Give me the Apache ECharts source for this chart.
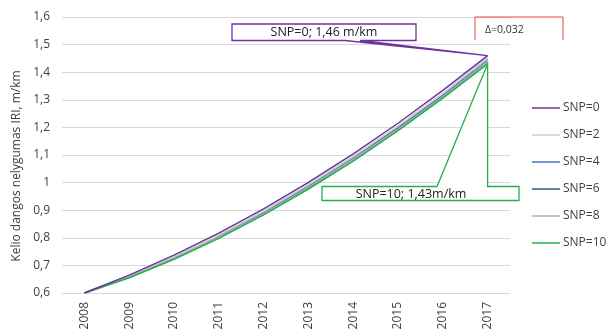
<!DOCTYPE html>
<html>
<head>
<meta charset="utf-8">
<script src="https://cdn.jsdelivr.net/npm/echarts@6/dist/echarts.min.js"></script>
<style>
  html, body { margin: 0; padding: 0; background: #fff; }
  #chart { width: 613px; height: 335px; }
</style>
</head>
<body>
<div id="chart"></div>
<script>
// Years on the horizontal axis
const years = ['2008', '2009', '2010', '2011', '2012', '2013', '2014', '2015', '2016', '2017'];

// Road roughness IRI (m/km) per scenario
const snp0  = [0.600, 0.665, 0.737, 0.817, 0.905, 1.001, 1.104, 1.215, 1.334, 1.460];
const snp2  = [0.600, 0.661, 0.731, 0.810, 0.897, 0.993, 1.095, 1.205, 1.323, 1.452];
const snp4  = [0.600, 0.660, 0.729, 0.807, 0.894, 0.989, 1.091, 1.201, 1.318, 1.448];
const snp6  = [0.600, 0.658, 0.727, 0.804, 0.890, 0.985, 1.087, 1.197, 1.314, 1.441];
const snp8  = [0.600, 0.657, 0.725, 0.801, 0.886, 0.981, 1.083, 1.192, 1.310, 1.436];
const snp10 = [0.600, 0.655, 0.722, 0.798, 0.883, 0.977, 1.078, 1.188, 1.306, 1.430];

const yTicks = { min: 0.6, max: 1.6, interval: 0.1 };
const yAxisTitle = 'Kelio dangos nelygumas IRI, m/km';
const calloutTop = 'SNP=0; 1,46 m/km';
const calloutBottom = 'SNP=10; 1,43m/km';
const deltaText = 'Δ=0,032';

const FONT = 'Open Sans';
const chart = echarts.init(document.getElementById('chart'), null, { renderer: 'canvas' });

function line(name, data, color, width, z) {
  return {
    name, type: 'line', data, symbol: 'none', smooth: false, z,
    lineStyle: { color, width },
    itemStyle: { color },
    emphasis: { disabled: true }
  };
}

const option = {
  animation: false,
  backgroundColor: '#ffffff',
  textStyle: { fontFamily: FONT },
  grid: { left: 62, right: 103, top: 17, bottom: 42 },
  legend: {
    orient: 'vertical',
    left: 527, top: 97,
    icon: 'rect',
    itemWidth: 28, itemHeight: 1.5, itemGap: 15,
    data: ['SNP=0', 'SNP=2', 'SNP=4', 'SNP=6', 'SNP=8', 'SNP=10'],
    textStyle: { fontFamily: FONT, fontSize: 12, color: '#404040', padding: [0, 0, 0, -2] }
  },
  xAxis: {
    type: 'category',
    data: years,
    boundaryGap: true,
    axisLine: { show: true, lineStyle: { color: '#d9d9d9' } },
    axisTick: { show: false },
    axisLabel: { rotate: 90, margin: 9, fontFamily: FONT, fontSize: 12, color: '#404040' }
  },
  yAxis: {
    type: 'value',
    min: yTicks.min, max: yTicks.max, interval: yTicks.interval,
    axisLine: { show: false },
    axisTick: { show: false },
    splitLine: { lineStyle: { color: '#d9d9d9' } },
    axisLabel: {
      margin: 12, fontFamily: FONT, fontSize: 12, color: '#404040',
      formatter: v => (Math.round(v * 10) / 10).toString().replace('.', ',')
    }
  },
  series: [
    line('SNP=4', snp4, '#4472C4', 1.5, 2),
    line('SNP=6', snp6, '#255E91', 1, 2),
    line('SNP=2', snp2, '#cfcfcf', 2, 3),
    line('SNP=8', snp8, '#b0b0b0', 2, 3),
    line('SNP=10', snp10, '#22B14C', 1.6, 4),
    line('SNP=0', snp0, '#7030A0', 1.4, 5)
  ]
};
chart.setOption(option);

// Callout boxes pointing at the 2017 end values
function drawCallouts() {
  const pTop = chart.convertToPixel({ xAxisIndex: 0, yAxisIndex: 0 }, ['2017', snp0[9]]);
  const pBot = chart.convertToPixel({ xAxisIndex: 0, yAxisIndex: 0 }, ['2017', snp10[9]]);
  const gTop = chart.convertToPixel({ yAxisIndex: 0 }, 1.6);

  chart.setOption({
    graphic: [
      {
        type: 'text', x: 17, y: 166, rotation: Math.PI / 2,
        style: {
          text: yAxisTitle, fontFamily: FONT, fontSize: 12, fill: '#404040',
          align: 'center', verticalAlign: 'middle'
        },
        z: 10
      },
      {
        type: 'polygon', z: 20,
        shape: { points: [[232, 24], [416, 24], [416, 40.5], [360, 40.5], [pTop[0], pTop[1]], [345, 40.5], [232, 40.5]] },
        style: { fill: '#ffffff', stroke: '#7030A0', lineWidth: 1.3 }
      },
      {
        type: 'text', z: 21, x: 324, y: 32.5,
        style: { text: calloutTop, fontFamily: FONT, fontSize: 12.5, fill: '#222', align: 'center', verticalAlign: 'middle' }
      },
      {
        type: 'polygon', z: 20,
        shape: { points: [[322, 186.5], [437, 186.5], [pBot[0], pBot[1]], [pBot[0], 186.5], [519, 186.5], [519, 200.5], [322, 200.5]] },
        style: { fill: '#ffffff', stroke: '#22B14C', lineWidth: 1.3 }
      },
      {
        type: 'text', z: 21, x: 411, y: 194,
        style: { text: calloutBottom, fontFamily: FONT, fontSize: 12.5, fill: '#222', align: 'center', verticalAlign: 'middle' }
      },
      {
        type: 'polyline', z: 20,
        shape: { points: [[475, 40], [475, gTop], [563, gTop], [563, 40]] },
        style: { fill: null, stroke: '#EE4444', lineWidth: 1 }
      },
      {
        type: 'text', z: 21, x: 485, y: 30,
        style: { text: deltaText, fontFamily: FONT, fontSize: 10.5, fill: '#333', align: 'left', verticalAlign: 'middle' }
      }
    ]
  });
}
drawCallouts();
</script>
</body>
</html>
